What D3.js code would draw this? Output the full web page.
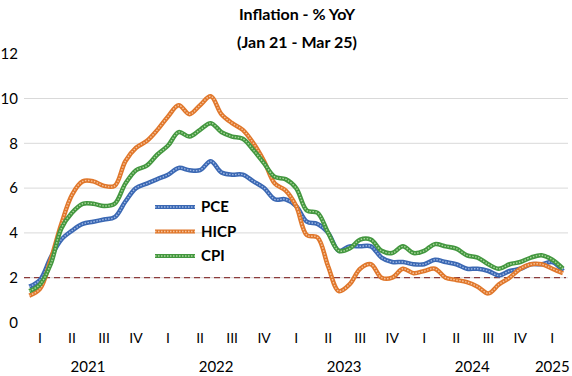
<!DOCTYPE html>
<html lang="en">
<head>
    <meta charset="UTF-8">
    <title>Inflation - % YoY</title>
    <script src="https://cdn.jsdelivr.net/npm/d3@7"></script>
    <style>
        body { margin: 0; background: #fff; }
        text { font-family: Lato, "Open Sans", sans-serif; fill: #000; }
    </style>
</head>
<body>
    <script>
        const width = 572;
        const height = 376;

        // monthly values, Jan 2021 .. Mar 2025
        const pce = [1.6, 1.9, 2.9, 3.7, 4.1, 4.4, 4.5, 4.6, 4.7, 5.4, 6.0, 6.2,
            6.4, 6.6, 6.9, 6.8, 6.8, 7.2, 6.7, 6.6, 6.6, 6.3, 6.0, 5.5,
            5.5, 5.2, 4.5, 4.4, 4.0, 3.2, 3.4, 3.4, 3.4, 2.9, 2.7, 2.7,
            2.6, 2.6, 2.8, 2.7, 2.6, 2.4, 2.4, 2.3, 2.1, 2.3, 2.4, 2.6,
            2.6, 2.7, 2.3];
        const hicp = [1.2, 1.5, 2.8, 4.4, 5.7, 6.3, 6.3, 6.1, 6.1, 7.2, 7.8, 8.1,
            8.6, 9.2, 9.7, 9.3, 9.7, 10.1, 9.3, 8.9, 8.6, 8.0, 7.2, 6.2,
            5.9, 5.2, 3.9, 3.8, 2.5, 1.4, 1.7, 2.4, 2.6, 2.0, 2.0, 2.4,
            2.2, 2.3, 2.4, 2.0, 1.9, 1.8, 1.6, 1.3, 1.7, 2.0, 2.4, 2.6,
            2.6, 2.4, 2.2];
        const cpi = [1.4, 1.7, 2.6, 4.2, 4.9, 5.3, 5.3, 5.2, 5.3, 6.2, 6.8, 7.0,
            7.5, 7.9, 8.5, 8.3, 8.6, 8.9, 8.5, 8.3, 8.2, 7.7, 7.1, 6.5,
            6.4, 6.0, 5.0, 4.9, 4.0, 3.2, 3.3, 3.7, 3.7, 3.2, 3.1, 3.4,
            3.1, 3.2, 3.5, 3.4, 3.3, 3.0, 2.9, 2.6, 2.4, 2.6, 2.7, 2.9,
            3.0, 2.8, 2.4];

        const quarterLabels = ["I", "II", "III", "IV", "I", "II", "III", "IV",
            "I", "II", "III", "IV", "I", "II", "III", "IV", "I"];
        const years = ["2021", "2022", "2023", "2024", "2025"];
        const yTicks = [0, 2, 4, 6, 8, 10, 12];
        const gridValues = [2, 4, 6, 8, 10];
        const target = 2;

        const series = [
            { name: "PCE", values: pce, color: "#3b68b3", light: "#9fb8e4" },
            { name: "HICP", values: hicp, color: "#e0772b", light: "#f6c49e" },
            { name: "CPI", values: cpi, color: "#43973f", light: "#acd89e" }
        ];

        const months = d3.range(pce.length);

        const x = d3.scalePoint()
            .domain(months)
            .range([29.3, 563]);

        const y = d3.scaleLinear()
            .domain([0, 12])
            .range([322.5, 53.7]);

        const svg = d3.select("body").append("svg")
            .attr("width", width)
            .attr("height", height)
            .attr("viewBox", [0, 0, width, height]);

        // title
        svg.append("text")
            .attr("x", 297).attr("y", 20)
            .attr("text-anchor", "middle")
            .attr("font-size", 16).attr("font-weight", "bold")
            .text("Inflation - % YoY");
        svg.append("text")
            .attr("x", 297).attr("y", 48)
            .attr("text-anchor", "middle")
            .attr("font-size", 16).attr("font-weight", "bold")
            .text("(Jan 21 - Mar 25)");

        // grid
        svg.append("g")
            .selectAll("line")
            .data(gridValues)
            .join("line")
            .attr("x1", 24).attr("x2", 568)
            .attr("y1", d => y(d)).attr("y2", d => y(d))
            .attr("stroke", "#d9d9d9")
            .attr("stroke-width", 1);

        // y labels
        svg.append("g")
            .selectAll("text")
            .data(yTicks)
            .join("text")
            .attr("x", 18)
            .attr("y", d => y(d))
            .attr("dy", "0.35em")
            .attr("text-anchor", "end")
            .attr("font-size", 15)
            .text(d => d);

        // 2% line
        svg.append("line")
            .attr("x1", 24).attr("x2", 566)
            .attr("y1", y(target)).attr("y2", y(target))
            .attr("stroke", "#8b3a3a")
            .attr("stroke-width", 1.2)
            .attr("stroke-dasharray", "6,4");

        // quarter labels
        svg.append("g")
            .selectAll("text")
            .data(quarterLabels)
            .join("text")
            .attr("x", (d, i) => x(i * 3 + 1))
            .attr("y", 343)
            .attr("text-anchor", "middle")
            .attr("font-size", 14)
            .text(d => d);

        // year labels, centred on their quarters
        svg.append("g")
            .selectAll("text")
            .data(years)
            .join("text")
            .attr("x", (d, i) => {
                const qs = d3.range(i * 4, Math.min(i * 4 + 4, quarterLabels.length));
                return d3.mean(qs, q => x(q * 3 + 1));
            })
            .attr("y", 372)
            .attr("text-anchor", "middle")
            .attr("font-size", 15)
            .text(d => d);

        const line = d3.line()
            .x((d, i) => x(i))
            .y(d => y(d))
            .curve(d3.curveCatmullRom.alpha(0.5));

        // textured lines: solid dark stroke + dotted light core
        const lines = svg.append("g");
        series.forEach(s => {
            lines.append("path")
                .datum(s.values)
                .attr("fill", "none")
                .attr("stroke", s.color)
                .attr("stroke-width", 4.5)
                .attr("stroke-linejoin", "round")
                .attr("d", line);
            lines.append("path")
                .datum(s.values)
                .attr("fill", "none")
                .attr("stroke", s.light)
                .attr("stroke-width", 1.4)
                .attr("stroke-dasharray", "1.5,1.5")
                .attr("d", line);
        });

        // legend
        const legend = svg.append("g");
        series.forEach((s, i) => {
            const ly = 207 + i * 24.5;
            legend.append("line")
                .attr("x1", 155).attr("x2", 195)
                .attr("y1", ly).attr("y2", ly)
                .attr("stroke", s.color).attr("stroke-width", 4);
            legend.append("line")
                .attr("x1", 155).attr("x2", 195)
                .attr("y1", ly).attr("y2", ly)
                .attr("stroke", s.light).attr("stroke-width", 1.3)
                .attr("stroke-dasharray", "1.5,1.5");
            legend.append("text")
                .attr("x", 201).attr("y", ly)
                .attr("dy", "0.35em")
                .attr("font-size", 15).attr("font-weight", "bold")
                .text(s.name);
        });
    </script>
</body>
</html>
